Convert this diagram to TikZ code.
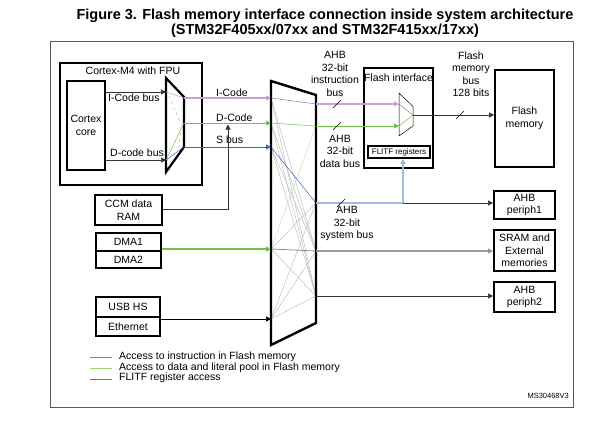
\documentclass[tikz,border=0pt]{standalone}
\usepackage{fontspec}
\setmainfont{Liberation Sans}
\usetikzlibrary{arrows.meta}
\definecolor{pl}{HTML}{C8A0DC}
\definecolor{pd}{HTML}{8A4CB0}
\definecolor{gl}{HTML}{70C448}
\definecolor{gd}{HTML}{5AB030}
\definecolor{bl}{HTML}{4060C4}
\definecolor{bll}{HTML}{A4B8E4}
\definecolor{gr}{HTML}{B4B4B4}
\definecolor{lgp}{HTML}{A868D0}
\definecolor{lgg}{HTML}{98D878}
\definecolor{lgb}{HTML}{6070C8}
\newcommand{\lbl}{\fontsize{10.5}{12.5}\selectfont}
\tikzset{
  box/.style={draw=black, line width=1.8pt, align=center, inner sep=0pt, font=\lbl},
  txt/.style={align=center, inner sep=0pt, font=\lbl},
  tip/.style={-{Triangle[length=5pt,width=5pt]}},
  arr/.style={tip, line width=0.6pt, draw=black!80},
  xbar/.style={line width=0.4pt, draw=gr},
  trap/.style={line width=2.2pt, line join=miter, draw=black},
  slash/.style={line width=0.6pt, draw=black},
}
\begin{document}
\begin{tikzpicture}[x=1pt,y=-1pt]
\useasboundingbox (0,0) rectangle (598,442);
% title
\node[align=center, inner sep=0pt, font=\bfseries\fontsize{14.5}{15}\selectfont] (title) at (325,23.5)
  {Figure 3. Flash memory interface connection inside system architecture\\(STM32F405xx/07xx and STM32F415xx/17xx)};
% frame
\node[draw=black!65, line width=0.8pt, minimum width=523, minimum height=366, inner sep=0pt] (frame) at (311.5,224) {};
% Cortex-M4 block
\node[box, line width=2pt, minimum width=142, minimum height=122] (cm4) at (131,124) {};
\node[txt] (cm4lbl) at (133,71) {Cortex-M4 with FPU};
\node[box, minimum width=38, minimum height=89] (core) at (86,125.5) {Cortex\\core};
% Cortex mux
\coordinate (m1a) at (166,78); \coordinate (m1b) at (184,97);
\coordinate (m1c) at (184,147); \coordinate (m1d) at (166,172);
\draw[trap] (m1a) -- (m1b) -- (m1c) -- (m1d) -- cycle;
\coordinate (m1iI) at (166,92); \coordinate (m1iD) at (166,160);
\coordinate (m1oI) at (184,98); \coordinate (m1oD) at (184,123); \coordinate (m1oS) at (184,147);
\draw[arr] (core.east |- m1iI) -- (m1iI);
\draw[arr] (core.east |- m1iD) -- (m1iD);
\node[txt, anchor=west] (icb) at (108,98) {I-Code bus};
\node[txt, anchor=west] (dcb) at (110,153) {D-code bus};
\draw[pl, line width=0.5pt] (m1iI) -- (m1oI);
\draw[gl, line width=0.5pt] (m1iD) -- (m1oD);
\draw[bl, line width=0.5pt] (m1iD) -- (m1oS);
\draw[gr, dashed, line width=0.5pt] (169,96) -- (181,124);
\draw[gr, dashed, line width=0.5pt] (181,127) -- (179,146);
% other masters
\node[box, minimum width=67, minimum height=30] (ccm) at (128.5,210) {CCM data\\RAM};
\node[box, minimum width=65, minimum height=18] (dma1) at (128.5,242) {DMA1};
\node[box, minimum width=65, minimum height=17] (dma2) at (128.5,259.5) {DMA2};
\node[box, minimum width=64, minimum height=20] (usb) at (128,307) {USB HS};
\node[box, minimum width=64, minimum height=19] (eth) at (128,326.5) {Ethernet};
% bus matrix
\coordinate (bma) at (271,81); \coordinate (bmb) at (316,95);
\coordinate (bmc) at (316,323); \coordinate (bmd) at (271,345);
\coordinate (bmiI) at (271,98); \coordinate (bmiD) at (271,123); \coordinate (bmiS) at (271,147);
\coordinate (bmiM) at (271,249); \coordinate (bmiU) at (271,319);
\coordinate (bmoI) at (316,104); \coordinate (bmoD) at (316,126); \coordinate (bmoS) at (316,203);
\coordinate (bmoR) at (316,251); \coordinate (bmoP) at (316,296);
% crossbar lines
\draw[xbar] (bmiI) -- (bmoR);
\draw[xbar] (bmiI) -- (bmoP);
\draw[xbar] (bmiD) -- (bmoR);
\draw[xbar] (bmiD) -- (bmoP);
\draw[xbar] (bmiS) -- (bmoR);
\draw[xbar] (bmiS) -- (bmoP);
\draw[xbar] (bmiM) -- (bmoS);
\draw[xbar] (bmiM) -- (bmoP);
\draw[xbar] (bmiU) -- (bmoS);
\draw[xbar] (bmiU) -- (bmoR);
\draw[xbar] (bmiU) -- (bmoP);
\draw[gl!50, line width=0.4pt] (bmiM) -- (bmoD);
\draw[draw=black!45, line width=0.8pt] (bmiM) -- (bmoR);
\draw[pd!80, line width=0.5pt] (bmiI) -- (bmoI);
\draw[gl, line width=0.5pt] (bmiD) -- (bmoD);
\draw[bl, line width=0.5pt] (bmiS) -- (bmoS);
\draw[trap, line width=2.4pt] (bma) -- (bmb) -- (bmc) -- (bmd) -- cycle;
% master -> matrix connectors
\draw[pl, line width=2pt, -{Triangle[length=5pt,width=5pt,fill=pd]}] (m1oI) -- (bmiI);
\draw[gl, line width=0.8pt, -{Triangle[length=5pt,width=5pt,fill=gd]}] (m1oD) -- (bmiD);
\draw[bl, line width=0.8pt, -{Triangle[length=5pt,width=5pt,fill=bl]}] (m1oS) -- (bmiS);
\node[txt, anchor=west] (lI) at (216,93) {I-Code};
\node[txt, anchor=west] (lD) at (216,118) {D-Code};
\node[txt, anchor=west] (lS) at (216,140) {S bus};
\coordinate (ccmj) at (228,209);
\draw[arr] (ccm.east |- ccmj) -- (ccmj) -- (228,124.5);
\draw[gl, line width=1.1pt, -{Triangle[length=5pt,width=5pt,fill=gd]}] (dma1.east |- bmiM) -- (bmiM);
\draw[arr, draw=black] (eth.east |- bmiU) -- (bmiU);
% flash interface
\node[box, minimum width=69, minimum height=100] (fi) at (398.5,118) {};
\node[txt] (filbl) at (398.5,78) {Flash interface};
\node[box, line width=1.5pt, minimum width=62, minimum height=12, font=\fontsize{8}{9}\selectfont] (flitf) at (399,152) {FLITF registers};
\coordinate (fma) at (399,93); \coordinate (fmb) at (413,106.5);
\coordinate (fmc) at (413,126); \coordinate (fmd) at (399,136);
\coordinate (fmiI) at (399,104); \coordinate (fmiD) at (399,126); \coordinate (fmo) at (413,115);
\draw[pd!80, line width=0.5pt] (fmiI) -- (fmo);
\draw[gl, line width=0.5pt] (fmiD) -- (fmo);
\draw[line width=0.5pt, line join=miter] (fma) -- (fmb) -- (fmc) -- (fmd) -- cycle;
\draw[pl, line width=2pt, -{Triangle[length=5pt,width=5pt,fill=pd]}] (bmoI) -- (fmiI);
\draw[gl, line width=0.8pt, -{Triangle[length=5pt,width=5pt,fill=gd]}] (bmoD) -- (fmiD);
% slaves
\node[box, minimum width=59, minimum height=97] (fmem) at (524.5,118.5) {Flash\\memory};
\node[box, minimum width=61, minimum height=28] (p1) at (524.5,205) {AHB\\periph1};
\node[box, minimum width=61, minimum height=41] (sram) at (524.5,250.5) {SRAM and\\External\\memories};
\node[box, minimum width=61, minimum height=30] (p2) at (524.5,297) {AHB\\periph2};
\draw[arr] (fmo) -- (fmem.west |- fmo);
\coordinate (sysj) at (403,203);
\draw[bll, line width=1.8pt] (bmoS) -- (sysj);
\draw[bll, line width=1.8pt, -{Triangle[length=5pt,width=5pt,fill=bl]}] (sysj) -- (flitf.south -| sysj);
\draw[arr] (sysj) -- (p1.west |- sysj);
\draw[tip, draw=black!40, line width=1.2pt, -{Triangle[length=5pt,width=5pt,fill=black]}] (bmoR) -- (sram.west |- bmoR);
\draw[arr] (bmoP) -- (p2.west |- bmoP);
% slashes
\draw[slash] (337,104) +(-4,4) -- +(4,-4);
\draw[slash] (337,126) +(-4,4) -- +(4,-4);
\draw[slash] (341,203) +(-4,4) -- +(4,-4);
\draw[slash] (460,115) +(-4,4) -- +(4,-4);
% bus labels
\node[txt] (ibl) at (335,74) {AHB\\32-bit\\instruction\\bus};
\node[txt] (fbl) at (471,74) {Flash\\memory\\bus\\128 bits};
\node[txt] (dbl) at (340,151) {AHB\\32-bit\\data bus};
\node[txt] (sbl) at (347,223.5) {AHB\\32-bit\\system bus};
% legend
\coordinate (lg1a) at (90,357); \coordinate (lg1b) at (112,357);
\coordinate (lg2a) at (90,368); \coordinate (lg2b) at (112,368);
\coordinate (lg3a) at (90,379); \coordinate (lg3b) at (112,379);
\draw[draw=lgp, line width=0.9pt] (lg1a) -- (lg1b);
\draw[draw=lgg, line width=0.9pt] (lg2a) -- (lg2b);
\draw[draw=lgb, line width=0.9pt] (lg3a) -- (lg3b);
\node[txt, anchor=west] (lgt1) at (119,357) {Access to instruction in Flash memory};
\node[txt, anchor=west] (lgt2) at (119,367.5) {Access to data and literal pool in Flash memory};
\node[txt, anchor=west] (lgt3) at (119,378) {FLITF register access};
\node[inner sep=0pt, anchor=east, font=\fontsize{7.5}{9}\selectfont] (code) at (569,396) {MS30468V3};
\end{tikzpicture}
\end{document}
